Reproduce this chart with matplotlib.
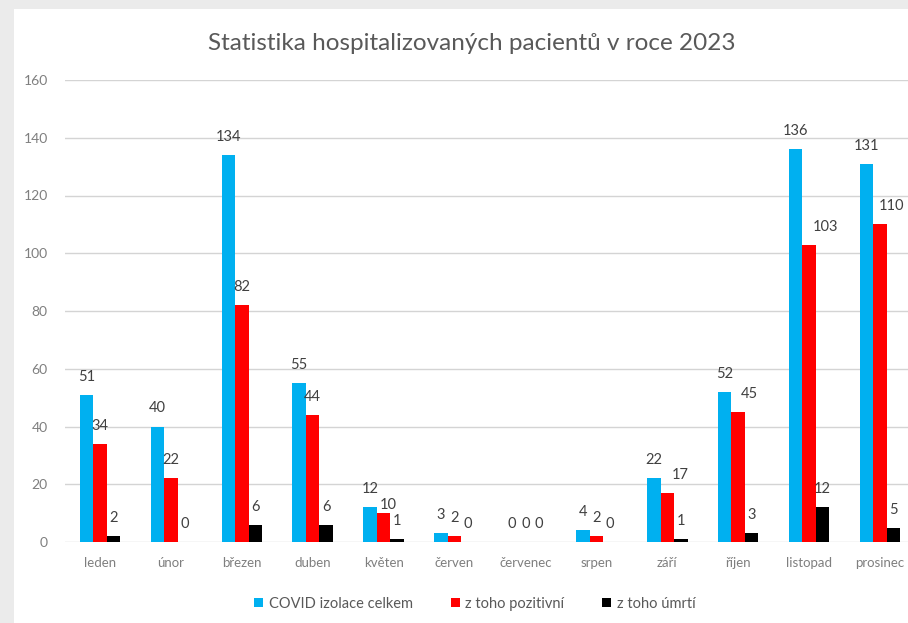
import matplotlib
matplotlib.use("Agg")
import matplotlib.pyplot as plt
import numpy as np

plt.rcParams['font.family'] = ['Lato', 'DejaVu Sans']

months = ["leden", "únor", "březen", "duben", "květen", "červen", "červenec",
          "srpen", "září", "říjen", "listopad", "prosinec"]
covid_total = [51, 40, 134, 55, 12, 3, 0, 4, 22, 52, 136, 131]
positive = [34, 22, 82, 44, 10, 2, 0, 2, 17, 45, 103, 110]
deaths = [2, 0, 6, 6, 1, 0, 0, 0, 1, 3, 12, 5]
series_names = ["COVID izolace celkem", "z toho pozitivní", "z toho úmrtí"]
colors = ["#00B0F0", "#FF0000", "#000000"]
title = "Statistika hospitalizovaných pacientů v roce 2023"
yticks = [0, 20, 40, 60, 80, 100, 120, 140, 160]

# manual label shifts (points) as in the original, keyed (series, month index)
label_dx = {(1, 4): 3, (1, 8): 9, (1, 9): 8, (1, 10): 12, (1, 11): 8}
label_dy = {(1, 4): -7}

W, H = 908, 623
fig = plt.figure(figsize=(W / 100, H / 100), dpi=100)
fig.patch.set_facecolor("#EBEBEB")
bg = fig.add_axes([14 / W, 0, 1 - 14 / W, 1 - 9 / H], zorder=0)
bg.set_facecolor("white")
bg.set_xticks([])
bg.set_yticks([])
for s in bg.spines.values():
    s.set_visible(False)

ax = fig.add_axes([64.5 / W, 81 / H, 851 / W, 462 / H], zorder=2)
ax.set_facecolor("none")
x = np.arange(len(months))
bw = 0.19
data = [covid_total, positive, deaths]
for i, (vals, c, name) in enumerate(zip(data, colors, series_names)):
    xs = x + (i - 1) * bw
    ax.bar(xs, vals, width=bw, color=c, label=name, zorder=3)
    for j, (xx, v) in enumerate(zip(xs, vals)):
        dx = label_dx.get((i, j), 0)
        dy = 13 + label_dy.get((i, j), 0)
        ax.annotate(str(v), (xx, v), xytext=(dx, dy), textcoords="offset points",
                    ha="center", va="center", fontsize=10.5, color="#404040", zorder=4)

ax.set_xlim(-0.5, len(months) - 0.5)
ax.set_ylim(0, 160)
ax.set_yticks(yticks)
ax.set_xticks(x)
ax.set_xticklabels(months)
ax.grid(axis="y", color="#D4D4D4", linewidth=1, zorder=0)
ax.tick_params(axis="both", length=0, colors="#7F7F7F", labelsize=9.5)
ax.tick_params(axis="y", pad=12, labelsize=10)
ax.tick_params(axis="x", pad=11)
for s in ax.spines.values():
    s.set_visible(False)

fig.text(472 / W, 1 - 43 / H, title, ha="center", va="center", fontsize=17.5,
         color="#595959", zorder=5)

leg = fig.legend(loc="center", bbox_to_anchor=(475 / W, 1 - 604 / H), ncol=3, frameon=False,
                 fontsize=10.5, handlelength=0.6, handleheight=0.6, handletextpad=0.4,
                 columnspacing=2.6)
leg.set_zorder(5)
for t in leg.get_texts():
    t.set_color("#595959")

fig.savefig("out.png", dpi=100, facecolor=fig.get_facecolor())
